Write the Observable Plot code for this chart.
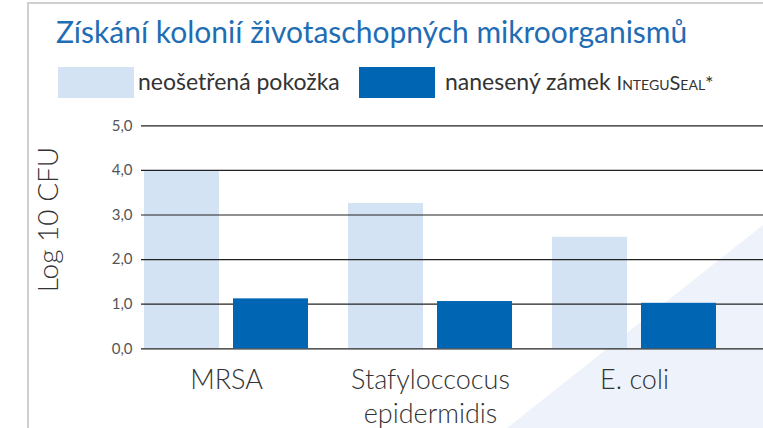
<!DOCTYPE html>
<html>
<head>
<meta charset="utf-8">
<script src="https://cdn.jsdelivr.net/npm/d3@7"></script>
<script src="https://cdn.jsdelivr.net/npm/@observablehq/plot@0.6"></script>
<style>
  html, body { margin: 0; padding: 0; background: #fff; }
  #wrap { position: relative; width: 763px; height: 428px; overflow: hidden; background: #fff; font-family: Lato, "Open Sans", sans-serif; }
  #tri { position: absolute; left: 0; top: 0; width: 763px; height: 428px; background: #eef2fa;
         clip-path: polygon(507px 428px, 763px 225px, 763px 428px); }
  #frame { position: absolute; left: 27px; top: 2px; width: 740px; height: 430px;
           border-left: 2px solid #cfcfcf; border-top: 2px solid #cfcfcf; }
  #title { position: absolute; left: 56px; top: 17px; font-size: 30px; line-height: 29px; color: #1f6db5; white-space: nowrap; }
  .sw { position: absolute; top: 67px; width: 76px; height: 31px; }
  .lt { position: absolute; top: 70px; font-size: 23px; line-height: 23px; color: #333; white-space: nowrap; }
  .sc { font-variant: small-caps; font-size: 20px; }
  #chart { position: absolute; left: 0; top: 110px; }
</style>
</head>
<body>
<div id="wrap">
  <div id="tri"></div>
  <div id="frame"></div>
  <div id="title"></div>
  <div id="legend"></div>
  <div id="chart"></div>
</div>
<script>
const title = "Získání kolonií životaschopných mikroorganismů";
const categories = ["MRSA", "Stafyloccocus\nepidermidis", "E. coli"];
const seriesNames = ["neošetřená pokožka", "nanesený zámek InteguSeal*"];
const untreated = [4.0, 3.26, 2.5];
const sealed = [1.12, 1.06, 1.02];
const yTicks = [0, 1, 2, 3, 4, 5];
const yLabel = "Log 10 CFU";
const colors = ["#d4e3f3", "#0066b3"];

document.getElementById("title").textContent = title;

// legend
const legend = document.getElementById("legend");
const swX = [58, 359];
const txX = [138, 445];
seriesNames.forEach((s, i) => {
  const sw = document.createElement("div");
  sw.className = "sw";
  sw.style.left = swX[i] + "px";
  sw.style.background = colors[i];
  legend.appendChild(sw);
  const t = document.createElement("div");
  t.className = "lt";
  t.style.left = txX[i] + "px";
  const m = s.match(/^(.*?)(InteguSeal\*)$/);
  if (m) {
    t.appendChild(document.createTextNode(m[1]));
    const sc = document.createElement("span");
    sc.className = "sc";
    sc.textContent = m[2];
    t.appendChild(sc);
  } else {
    t.textContent = s;
  }
  legend.appendChild(t);
});

const data = categories.flatMap((c, i) => [
  {cat: c, series: seriesNames[0], value: untreated[i]},
  {cat: c, series: seriesNames[1], value: sealed[i]}
]);

const first = categories[0], middle = categories[1], last = categories[2];

const chart = Plot.plot({
  width: 763,
  height: 318,
  marginTop: 15.3,
  marginBottom: 79.7,
  marginLeft: 141,
  marginRight: 0,
  style: {fontFamily: "Lato, 'Open Sans', sans-serif", background: "transparent", overflow: "visible"},
  fx: {domain: categories, range: [124, 736], padding: 0, axis: null},
  x: {domain: seriesNames, paddingInner: 0.153, paddingOuter: 0.2135, axis: null},
  y: {domain: [0, 5], axis: null},
  color: {domain: seriesNames, range: colors},
  marks: [
    Plot.barY(data.filter(d => d.series === seriesNames[0]), {fx: "cat", x: "series", y: "value", fill: "series"}),
    Plot.ruleY(yTicks, {fx: () => first, insetLeft: 17, stroke: "#222", strokeWidth: 1.2}),
    Plot.ruleY(yTicks, {fx: () => middle, stroke: "#222", strokeWidth: 1.2}),
    Plot.ruleY(yTicks, {fx: () => last, insetRight: -27, stroke: "#222", strokeWidth: 1.2}),
    Plot.barY(data.filter(d => d.series === seriesNames[1]), {fx: "cat", x: "series", y: "value", fill: "series"}),
    Plot.text(yTicks, {fx: () => first, y: d => d, frameAnchor: "left", dx: 8, textAnchor: "end",
      text: d => d.toFixed(1).replace(".", ","), fill: "#555", fontSize: 15}),
    Plot.text(categories, {fx: d => d, text: d => d, frameAnchor: "bottom", lineAnchor: "top", dy: 15.5,
      fontSize: 27, fontWeight: 300, lineHeight: 1.27, fill: "#333"}),
    Plot.text([yLabel], {fx: () => first, text: d => d, frameAnchor: "left", textAnchor: "middle", lineAnchor: "middle",
      rotate: -90, dx: -75.5, dy: -17.8, fontSize: 28, fontWeight: 300, fill: "#333"})
  ]
});
document.getElementById("chart").appendChild(chart);
</script>
</body>
</html>
